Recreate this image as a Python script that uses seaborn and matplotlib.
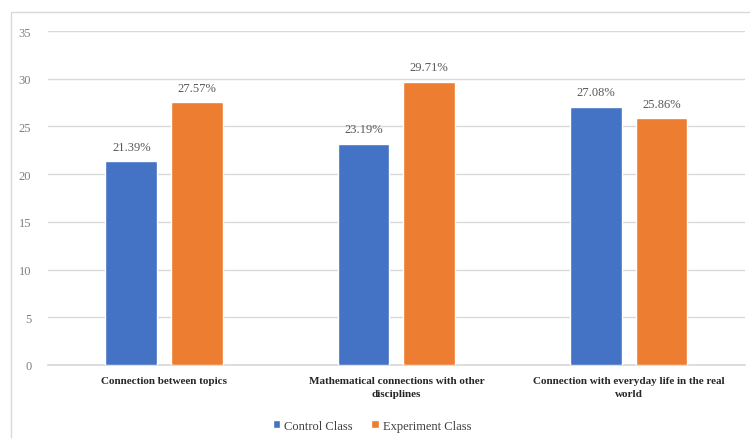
import matplotlib
matplotlib.use("Agg")
import matplotlib.pyplot as plt
import seaborn as sns
import pandas as pd
from matplotlib.patches import Rectangle

categories = ["Connection between topics",
              "Mathematical connections with other\ndisciplines",
              "Connection with everyday life in the real\nworld"]
series = ["Control Class", "Experiment Class"]
control = [21.39, 23.19, 27.08]
experiment = [27.57, 29.71, 25.86]
yticks = [0, 5, 10, 15, 20, 25, 30, 35]

df = pd.DataFrame({
    "cat": categories * 2,
    "cls": [series[0]] * 3 + [series[1]] * 3,
    "val": control + experiment,
})

sns.set_theme(style="white")
plt.rcParams['font.family'] = ['Liberation Serif', 'DejaVu Serif']

fig = plt.figure(figsize=(7.5, 4.39), dpi=100)
ax = fig.add_axes([0.064, 0.1663, 0.929, 0.7607])

# outer chart frame (only left and top edges visible, as in the cropped original)
fig.patches.append(Rectangle((11/750, -0.1), 1.2, 1.1 - 13/439, transform=fig.transFigure,
                             fill=False, edgecolor="#d9d9d9", linewidth=1.0, zorder=0))

sns.barplot(data=df, x="cat", y="val", hue="cls", order=categories, hue_order=series,
            palette=["#4472C4", "#ED7D31"], width=0.565, gap=0.21, ax=ax,
            saturation=1, legend=True, zorder=3)

for cont in ax.containers:
    labels = [f"{v:.2f}%" for v in cont.datavalues]
    ax.bar_label(cont, labels=labels, padding=6, fontsize=9, color="#595959")

ax.set_ylim(0, 35)
ax.set_yticks(yticks)
ax.set_yticklabels([str(t) for t in yticks], fontsize=9, color="#7f7f7f")
ax.yaxis.grid(True, color="#d9d9d9", linewidth=1.0, zorder=0)
ax.set_axisbelow(True)
ax.tick_params(axis="y", length=0, pad=12)
ax.tick_params(axis="x", length=0, pad=8)
ax.set_xticks(range(3))
ax.set_xticklabels(categories, fontsize=8, fontweight="bold", color="#262626",
                   linespacing=1.6)
ax.set_xlabel("")
ax.set_ylabel("")
for s in ["top", "right", "left"]:
    ax.spines[s].set_visible(False)
ax.spines["bottom"].set_color("#d9d9d9")
ax.set_xlim(-0.5, 2.5)

ax.legend(loc="upper center", bbox_to_anchor=(0.465, -0.13), ncol=2, frameon=False,
          fontsize=9, handlelength=0.6, handleheight=0.6, handletextpad=0.3,
          columnspacing=1.5, labelcolor="#404040")

fig.savefig("out.png", dpi=100)
